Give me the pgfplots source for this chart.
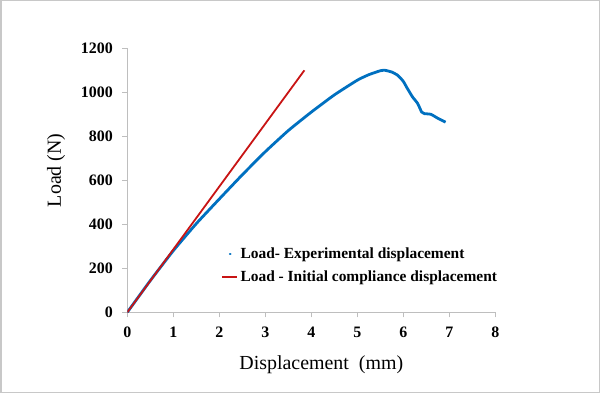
\documentclass[border=0pt]{standalone}
\usepackage{pgfplots}
\pgfplotsset{compat=1.18}
\usepackage{fontspec}
\setmainfont{Liberation Serif}
\definecolor{exblue}{RGB}{0,112,192}
\definecolor{exred}{RGB}{200,20,20}
\definecolor{axgray}{RGB}{190,190,190}
\definecolor{framegray}{RGB}{200,200,200}
\begin{document}
\begin{tikzpicture}
\useasboundingbox (0,0) rectangle (600bp,393bp);
\draw[framegray, line width=1.5bp] (0.75bp,0.75bp) rectangle (599.25bp,392.25bp);
\begin{axis}[
  scale only axis,
  width=368bp, height=264bp,
  at={(127.3bp,80.7bp)}, anchor=south west,
  xmin=0, xmax=8, ymin=0, ymax=1200,
  xtick={0,1,...,8}, ytick={0,200,...,1200},
  axis lines*=left,
  axis line style={axgray, line width=0.8bp},
  tick style={axgray, line width=0.8bp},
  tick align=outside,
  major tick length=5bp,
  /pgf/number format/assume math mode=true,
  /pgf/number format/1000 sep={},
  ticklabel style={font=\bfseries\fontsize{16}{18}\selectfont, text=black},
  xticklabel style={yshift=-6bp},
  yticklabel style={xshift=-6bp},
  label style={font=\fontsize{20}{22}\selectfont},
  xlabel={Displacement\ \ (mm)},
  ylabel={Load (N)},
  xlabel style={yshift=-11bp, xshift=10bp},
  ylabel style={yshift=9bp, xshift=10bp},
  legend cell align=left,
  legend style={draw=none, fill=none, at={(0.255,0.178)}, anchor=west,
    font=\bfseries\fontsize{15.5}{17}\selectfont, inner sep=0pt,
    row sep=7bp},
  legend image code/.code={\draw[#1] (0bp,0bp) -- (15bp,0bp);},
]
\addplot[exblue, line width=2.8bp, forget plot, smooth, tension=0.3] coordinates {
(0,0) (0.5,144) (1,280) (1.5,403) (2,515) (2.5,625) (3,730) (3.5,826)
(4,910) (4.5,988) (5,1055) (5.25,1080) (5.5,1098) (5.6,1100) (5.75,1092)
(5.88,1077) (6.0,1050) (6.07,1024) (6.2,979) (6.31,950) (6.4,910)
(6.46,903) (6.6,900) (6.75,882) (6.92,864)
};
\addplot[exred, line width=1.8bp, forget plot] coordinates {(0,0) (3.85,1100)};
\addlegendimage{color=exblue, line width=2.2bp, line cap=round, shorten >=7bp, shorten <=7.5bp}
\addlegendentry{Load- Experimental displacement}
\addlegendimage{color=exred, line width=1.8bp}
\addlegendentry{Load - Initial compliance displacement}
\end{axis}
\end{tikzpicture}
\end{document}
